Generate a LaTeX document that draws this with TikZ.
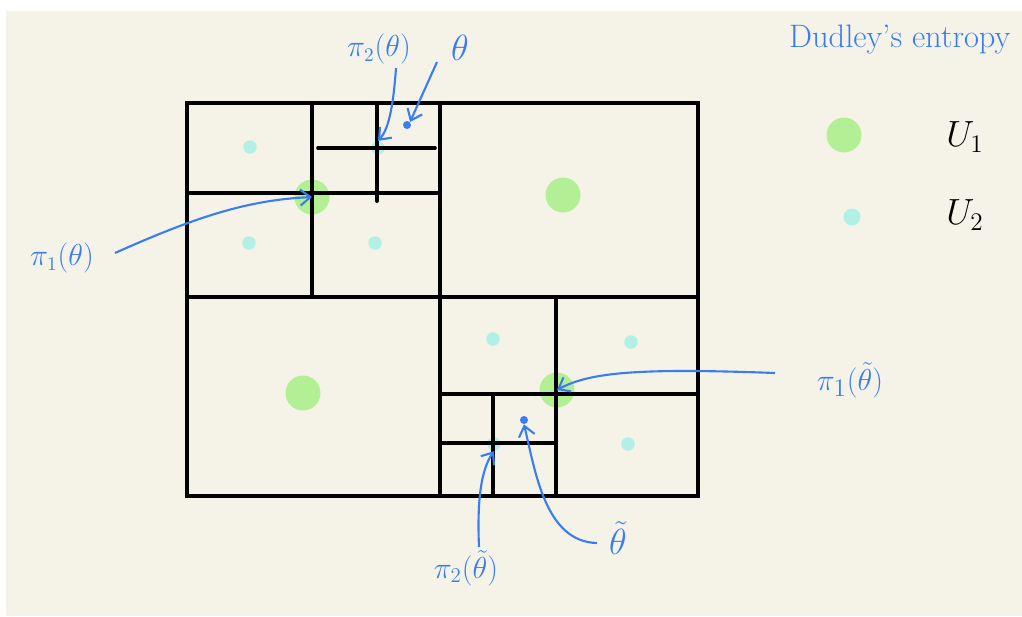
\documentclass[tikz,border=0pt]{standalone}
\usepackage{amsmath,amssymb}
\usepackage{xcolor}
\usepackage{tikz}
\usetikzlibrary{arrows.meta, positioning}
\definecolor{paper}{RGB}{245, 243, 232}
\definecolor{inkblue}{RGB}{58, 125, 240}
\definecolor{levelone}{RGB}{179, 239, 149}
\definecolor{leveltwo}{RGB}{178, 240, 230}

\begin{document}
\begin{tikzpicture}[
    x=0.02cm, y=-0.02cm,
    cellLine/.style={draw=black, line width=2.1pt, line cap=round},
    bigDot/.style={circle, fill=levelone, minimum size=0.70cm, inner sep=0pt},
    smallDot/.style={circle, fill=leveltwo, minimum size=0.27cm, inner sep=0pt},
    pointDot/.style={circle, fill=inkblue, minimum size=0.16cm, inner sep=0pt},
    pointerArrow/.style={draw=inkblue, line width=1.2pt, -{Straight Barb[length=2mm, width=3.2mm]}},
    blueLabel/.style={text=inkblue, inner sep=1pt},
    legendLabel/.style={text=black, inner sep=1pt, font=\fontsize{20}{22}\selectfont}
]

% Paper
\useasboundingbox (0,0) rectangle (1022,616);
\fill[white] (0,0) rectangle (1022,616);
\fill[paper] (6,11) rectangle (1022,616);

% Level 1 centres (big) and level 2 centres (small)
\node[bigDot] (cTL) at (312,197) {};
\node[bigDot] (cTR) at (563,195) {};
\node[bigDot] (cBL) at (303,393) {};
\node[bigDot] (cBR) at (557,390) {};
\node[smallDot] (s1) at (250,147) {};
\node[smallDot] (s2) at (249,243) {};
\node[smallDot] (s3) at (375,243) {};
\node[smallDot] (s4) at (378,148) {};
\node[smallDot] (s5) at (493,339) {};
\node[smallDot] (s6) at (631,342) {};
\node[smallDot] (s7) at (628,444) {};
\node[smallDot] (s8) at (494,444) {};

% Partition
\draw[cellLine] (187,103) rectangle (698,496);
\draw[cellLine] (187,297) -- (698,297);
\draw[cellLine] (440,103) -- (440,496);
\draw[cellLine] (312,103) -- (312,297);
\draw[cellLine] (190,193) -- (437,193);
\draw[cellLine] (377,103) -- (377,201);
\draw[cellLine] (318,148) -- (435,148);
\draw[cellLine] (556,297) -- (556,494);
\draw[cellLine] (440,394) -- (698,394);
\draw[cellLine] (493,394) -- (493,496);
\draw[cellLine] (440,443) -- (556,443);

% Points
\node[pointDot] (theta) at (407,125) {};
\node[pointDot] (thetaT) at (524,420) {};

% Labels
\node[blueLabel, font=\fontsize{16}{18}\selectfont] (lblPiTwo) at (379,49) {$\pi_2(\theta)$};
\node[blueLabel, font=\fontsize{20}{22}\selectfont] (lblTheta) at (460,48) {$\theta$};
\node[blueLabel, font=\fontsize{16}{18}\selectfont] (lblPiOne) at (62,258) {$\pi_1(\theta)$};
\node[blueLabel, font=\fontsize{19}{22}\selectfont] (lblPiOneT) at (850,380) {$\pi_1(\tilde{\theta})$};
\node[blueLabel, font=\fontsize{17}{20}\selectfont] (lblPiTwoT) at (466,568) {$\pi_2(\tilde{\theta})$};
\node[blueLabel, font=\fontsize{21}{24}\selectfont] (lblThetaT) at (618,538) {$\tilde{\theta}$};
\node[blueLabel, anchor=west, font=\fontsize{18.5}{21}\selectfont] (title) at (787,40) {Dudley's entropy};

% Legend
\node[bigDot] (keyOne) at (844,135) {};
\node[smallDot, minimum size=0.34cm] (keyTwo) at (852,217) {};
\node[legendLabel] (lblUOne) at (965,137) {$U_1$};
\node[legendLabel] (lblUTwo) at (965,215) {$U_2$};

% Pointers
\coordinate (pOne) at (115,253);
\coordinate (pTwo) at (396,68);
\coordinate (pTh) at (437,62);
\coordinate (pOneT) at (775,373);
\coordinate (pTwoT) at (479,547);
\coordinate (pThT) at (597,543);
\draw[pointerArrow] (pOne) .. controls (200,215) and (250,200) .. (cTL.center);
\draw[pointerArrow] (pTwo) .. controls (393,110) and (388,130) .. (s4.north);
\draw[pointerArrow] (pTh) -- (theta.north east);
\draw[pointerArrow] (pOneT) .. controls (640,368) and (590,372) .. (cBR.center);
\draw[pointerArrow] (pTwoT) .. controls (477,500) and (481,470) .. (s8.south);
\draw[pointerArrow] (pThT) .. controls (545,542) and (535,470) .. (thetaT.south);

\end{tikzpicture}
\end{document}
